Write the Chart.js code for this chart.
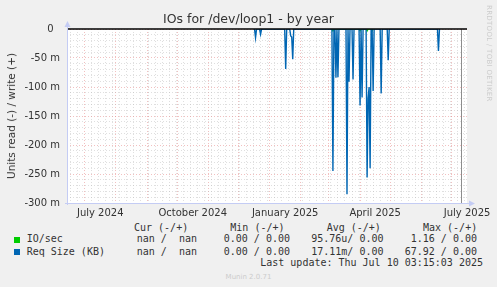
<!DOCTYPE html>
<html>
<head>
<meta charset="utf-8">
<title>IOs for /dev/loop1 - by year</title>
<script src="https://cdn.jsdelivr.net/npm/chart.js@4.4.1/dist/chart.umd.min.js"></script>
<style>
  body { margin: 0; background: #f0f0f0; }
  #graph {
    position: relative;
    width: 497px;
    height: 287px;
    background: #f0f0f0;
    color: #333;
    font-family: "DejaVu Sans", sans-serif;
    overflow: hidden;
  }
  #graph canvas { position: absolute; left: 0; top: 0; }
  .title {
    position: absolute; left: 0; top: 11px; width: 497px;
    text-align: center; font-size: 12.5px; line-height: 16px;
  }
  .ytitle {
    position: absolute; left: 11px; top: 116px; font-size: 10.5px; white-space: nowrap;
    transform: translate(-50%, -50%) rotate(-90deg);
  }
  .watermark {
    position: absolute; left: 485px; top: 5px; font-size: 7px; color: #ccc;
    writing-mode: vertical-rl; white-space: nowrap; letter-spacing: 0.3px;
  }
  .mono {
    position: absolute; font-family: "DejaVu Sans Mono", monospace; font-size: 10px;
    line-height: 12px; white-space: pre;
  }
  .swatch { position: absolute; width: 6px; height: 6px; left: 14px; }
  .footer {
    position: absolute; left: 0; width: 497px; top: 273px; text-align: center;
    font-size: 7px; color: #ccc;
  }
</style>
</head>
<body>
<div id="graph">
  <canvas id="chart" width="497" height="221"></canvas>
  <div class="title">IOs for /dev/loop1 - by year</div>
  <div class="ytitle">Units read (-) / write (+)</div>
  <div class="watermark">RRDTOOL / TOBI OETIKER</div>
  <div class="mono" style="left:134px; top:222px">Cur (-/+)       Min (-/+)       Avg (-/+)       Max (-/+)</div>
  <div id="legend"></div>
  <div class="mono" style="right:14px; top:257px">Last update: Thu Jul 10 03:15:03 2025</div>
  <div class="footer">Munin 2.0.71</div>
</div>
<script>
// days are counted from 1 July 2024
const DAY0 = Date.UTC(2024, 6, 1);
function dayOf(y, m, d) {
  return (Date.UTC(y, m - 1, d) - DAY0) / 86400000;
}

const xStart = -17.6;
const xEnd = 380.4;
const nowDay = dayOf(2025, 7, 10) + 3.25 / 24;

const tickLabels = ["July 2024", "October 2024", "January 2025", "April 2025", "July 2025"];
const tickMonths = [[2024, 7], [2024, 10], [2025, 1], [2025, 4], [2025, 7]];

// read side (negative), in milli-units
const readDays = [169, 170, 171, 174, 175, 176, 199, 200, 201, 204, 205, 206, 207, 208,
  246, 247, 248, 249, 250, 251, 252, 253, 260, 261, 262, 263, 264, 266, 267, 268,
  273, 274, 275, 276, 277, 280, 281, 282, 283, 284, 285, 286, 287, 288,
  294, 295, 296, 301, 302, 303, 351, 352, 353];
const readValues = [0, -15, 0, 0, -9, 0, 0, -69, 0, 0, -12, -14, -52, 0,
  0, -245, 0, 0, -84, 0, -83, 0, 0, -285, 0, -91, 0, 0, -87, 0,
  0, -132, 0, -118, 0, 0, -256, -120, -100, -240, 0, 0, -107, 0,
  0, -111, 0, 0, -54, 0, 0, -38, 0];

const ioDays = [246, 247, 248, 273, 274, 275, 280, 281, 282, 285, 286, 287];
const ioValues = [0, -3, 0, 0, -3, 0, 0, -3, 0, 0, -3, 0];

const legendNames = ["IO/sec", "Req Size (KB)"];
const legendColors = ["#00cc00", "#0066b3"];
const legendCur = ["nan /  nan", "nan /  nan"];
const legendMin = ["0.00 / 0.00", "0.00 / 0.00"];
const legendAvg = ["95.76u/ 0.00", "17.11m/ 0.00"];
const legendMax = ["1.16 / 0.00", "67.92 / 0.00"];

const yMin = -300;
const yMax = 0;

// grid: month starts (red), mondays (grey), labels mid-month
const monthLines = [];
for (let y = 2024, m = 6; y < 2026; m++) {
  if (m > 12) { m = 1; y++; }
  const d = dayOf(y, m, 1);
  if (d > xEnd) break;
  if (d >= xStart) monthLines.push(d);
}
const weekLines = [];
for (let d = dayOf(2024, 6, 17); d <= xEnd; d += 7) {
  if (!monthLines.includes(d)) weekLines.push(d);
}
const labelAt = tickMonths.map(([y, m]) => (dayOf(y, m, 1) + dayOf(y, m + 1, 1)) / 2);

const yLines = [];
for (let v = yMin; v <= yMax; v += 10) yLines.push(v);

const RED = "rgba(230, 130, 130, 0.5)";
const GREY = "rgba(185, 185, 185, 0.45)";
const AXIS = "#c4ccf4";

const rrdFrame = {
  id: "rrdFrame",
  beforeDraw(chart) {
    const { ctx, chartArea: a } = chart;
    ctx.save();
    ctx.fillStyle = "#ffffff";
    ctx.fillRect(a.left, a.top, a.right - a.left, a.bottom - a.top);
    ctx.restore();
  },
  afterDatasetsDraw(chart) {
    const { ctx, chartArea: a, scales } = chart;
    ctx.save();
    // now rule
    const nx = Math.round(scales.x.getPixelForValue(nowDay)) + 0.5;
    ctx.strokeStyle = "#8c8c8c";
    ctx.lineWidth = 1;
    ctx.beginPath();
    ctx.moveTo(nx, a.top);
    ctx.lineTo(nx, a.bottom);
    ctx.stroke();
    // zero line
    const zy = scales.y.getPixelForValue(0);
    ctx.strokeStyle = "#000000";
    ctx.lineWidth = 1.5;
    ctx.beginPath();
    ctx.moveTo(a.left, zy);
    ctx.lineTo(a.right, zy);
    ctx.stroke();
    // axes with arrows
    ctx.strokeStyle = AXIS;
    ctx.fillStyle = AXIS;
    ctx.lineWidth = 1;
    ctx.beginPath();
    ctx.moveTo(a.left + 0.5, a.bottom + 2);
    ctx.lineTo(a.left + 0.5, a.top - 4);
    ctx.moveTo(a.left - 2, a.bottom + 0.5);
    ctx.lineTo(a.right + 4, a.bottom + 0.5);
    ctx.stroke();
    ctx.beginPath();
    ctx.moveTo(a.left - 2.5, a.top - 2);
    ctx.lineTo(a.left + 3.5, a.top - 2);
    ctx.lineTo(a.left + 0.5, a.top - 8);
    ctx.closePath();
    ctx.fill();
    ctx.beginPath();
    ctx.moveTo(a.right + 2, a.bottom - 2.5);
    ctx.lineTo(a.right + 2, a.bottom + 3.5);
    ctx.lineTo(a.right + 8, a.bottom + 0.5);
    ctx.closePath();
    ctx.fill();
    ctx.restore();
  },
};

const chart = new Chart(document.getElementById("chart"), {
  type: "line",
  data: {
    datasets: [
      {
        label: "Req Size (KB)",
        data: readDays.map((d, i) => ({ x: d, y: readValues[i] })),
        borderColor: "#0066b3",
        borderWidth: 1.4,
        pointRadius: 0,
        tension: 0,
        order: 1,
      },
      {
        label: "IO/sec",
        data: ioDays.map((d, i) => ({ x: d, y: ioValues[i] })),
        borderColor: "#00cc00",
        borderWidth: 1.4,
        pointRadius: 0,
        tension: 0,
        order: 2,
      },
    ],
  },
  options: {
    responsive: false,
    animation: false,
    layout: { padding: { top: 29, right: 30, left: 0, bottom: 0 } },
    plugins: {
      legend: { display: false },
      tooltip: { enabled: false },
    },
    scales: {
      x: {
        type: "linear",
        min: xStart,
        max: xEnd,
        afterBuildTicks(scale) {
          scale.ticks = [...monthLines, ...weekLines, ...labelAt]
            .sort((p, q) => p - q)
            .map((v) => ({ value: v }));
        },
        afterFit(scale) {
          scale.height = 18;
        },
        ticks: {
          autoSkip: false,
          maxRotation: 0,
          padding: 4,
          color: "#333",
          font: { family: "DejaVu Sans", size: 10 },
          callback(value) {
            const i = labelAt.indexOf(value);
            return i >= 0 ? tickLabels[i] : "";
          },
        },
        grid: {
          drawTicks: false,
          color(ctx) {
            const v = ctx.tick && ctx.tick.value;
            if (monthLines.includes(v)) return RED;
            if (weekLines.includes(v)) return GREY;
            return "rgba(0,0,0,0)";
          },
        },
        border: { display: false, dash: [1, 2] },
      },
      y: {
        min: yMin,
        max: yMax,
        afterBuildTicks(scale) {
          scale.ticks = yLines.map((v) => ({ value: v }));
        },
        afterFit(scale) {
          scale.width = 67;
        },
        ticks: {
          autoSkip: false,
          padding: 7,
          color: "#333",
          font: { family: "DejaVu Sans", size: 10 },
          callback(value) {
            if (value % 50 !== 0) return "";
            return value === 0 ? "0  " : value + " m";
          },
        },
        grid: {
          drawTicks: false,
          color(ctx) {
            const v = ctx.tick && ctx.tick.value;
            return v % 50 === 0 ? RED : GREY;
          },
        },
        border: { display: false, dash: [1, 2] },
      },
    },
  },
  plugins: [rrdFrame],
});

// legend rows under the graph
const legend = document.getElementById("legend");
const rowTop = [233, 245.5];
legendNames.forEach((name, i) => {
  const sw = document.createElement("div");
  sw.className = "swatch";
  sw.style.top = (rowTop[i] + 3.5) + "px";
  sw.style.background = legendColors[i];
  legend.appendChild(sw);
  const cells = [
    [name, "left", 26.7],
    [legendCur[i], "right", 197],
    [legendMin[i], "right", 290],
    [legendAvg[i], "right", 383.5],
    [legendMax[i], "right", 477],
  ];
  cells.forEach(([text, side, x]) => {
    const el = document.createElement("div");
    el.className = "mono";
    el.textContent = text;
    el.style.top = rowTop[i] + "px";
    if (side === "left") el.style.left = x + "px";
    else el.style.right = (497 - x) + "px";
    legend.appendChild(el);
  });
});
</script>
</body>
</html>
